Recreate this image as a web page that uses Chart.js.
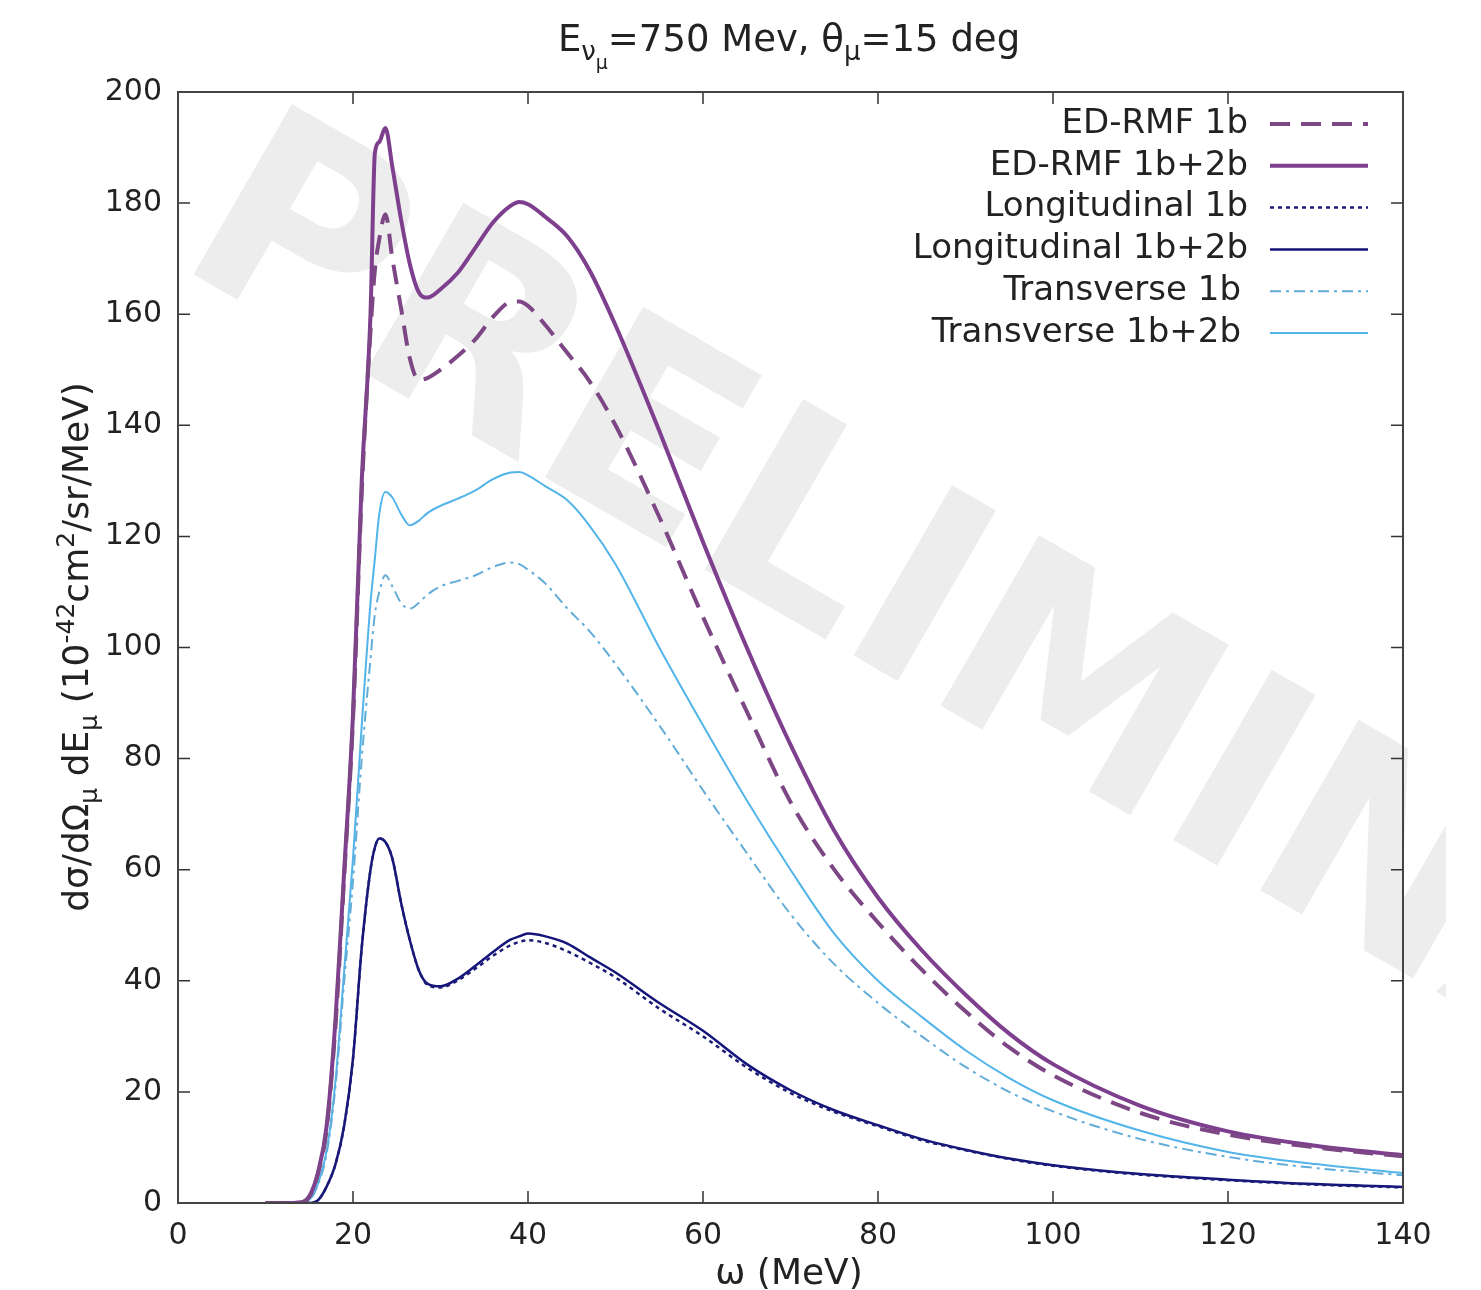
<!DOCTYPE html>
<html>
<head>
<meta charset="utf-8">
<script src="https://cdn.jsdelivr.net/npm/chart.js@4.4.1/dist/chart.umd.min.js"></script>
<style>
  html, body { margin: 0; padding: 0; background: #fff; }
  #wrap { width: 1481px; height: 1290px; position: relative; }
</style>
</head>
<body>
<div id="wrap"><canvas id="chart"></canvas></div>
<script>
// omega (MeV) sampling points, shared by all curves
const omega = [10, 12, 14, 15, 16, 17, 18, 19, 20, 21, 22, 22.5, 23, 23.7, 24.5, 25.5, 26.5, 27.5, 28.5, 30,
  32, 34, 36, 38, 39, 40, 42, 44.5, 47, 50, 55, 60, 65, 70, 75, 80, 85, 90, 95, 100, 110, 120, 130, 140];

// cross sections, 10^-42 cm^2/sr/MeV
const edRmf1b = [0, 0, 0.1, 1.1, 5.3, 13.5, 32, 59, 87, 128, 157, 168, 173.5, 178, 170, 161, 152, 148.2, 148.5, 150,
  152.5, 155.5, 159.5, 162.2, 162.3, 161.5, 158, 153, 148, 140, 123.5, 105.5, 88.5, 72.2, 60, 50.5, 42, 34.5, 28, 23, 16.2, 12.3, 10, 8.4];
const edRmf2b = [0, 0, 0.1, 1.2, 5.5, 14, 33, 60, 88, 130, 160, 189, 191, 193.5, 186.5, 177, 169, 164, 163, 164.5,
  167.5, 172, 176.5, 179.5, 180.2, 179.8, 177.5, 174, 168, 158, 139, 119, 100, 82.5, 67, 55, 45.5, 37.5, 30.5, 25, 17.5, 12.9, 10.3, 8.6];
const longi1b = [0, 0, 0, 0, 0.5, 3, 7, 14, 26, 46, 60, 64, 65.6, 65, 62, 54, 47.3, 42, 39.3, 38.8,
  40.1, 42.2, 44.5, 46.4, 47, 47.3, 46.8, 45.3, 43.3, 40.6, 35, 30, 24.4, 19.8, 16.4, 13.8, 11.3, 9.5, 7.9, 6.7, 5.1, 4.1, 3.3, 2.8];
const longi2b = [0, 0, 0, 0, 0.5, 3, 7, 14, 26, 46, 60, 64, 65.6, 65, 62, 54, 47.3, 42, 39.5, 39,
  40.4, 42.7, 45.2, 47.4, 48, 48.5, 48, 46.7, 44.3, 41.5, 36, 31, 25, 20.3, 16.7, 14, 11.5, 9.6, 8, 6.8, 5.2, 4.2, 3.4, 2.9];
const trans1b = [0, 0, 0.1, 0.5, 3.3, 9, 21, 40, 58, 80, 98, 106, 110, 113, 111, 108, 107, 108, 109.5, 111,
  112, 113, 114.5, 115.3, 115, 114, 111.5, 107, 103, 97, 86, 74.3, 63, 52, 43, 36, 30, 24.5, 20, 16.5, 11.5, 8.3, 6.3, 5];
const trans2b = [0, 0, 0.1, 0.6, 3.5, 9.5, 22, 42, 62, 86, 108, 116, 124, 128, 127, 124, 122, 122.8, 124.2, 125.5,
  126.8, 128.3, 130.3, 131.5, 131.6, 131, 129, 126.5, 122, 115, 100, 86, 72.5, 60, 48.5, 40, 33.5, 27.5, 22.5, 18.5, 13, 9.2, 7, 5.4];

const xTicks = [0, 20, 40, 60, 80, 100, 120, 140];
const yTicks = [0, 20, 40, 60, 80, 100, 120, 140, 160, 180, 200];

const FONT = '"DejaVu Sans", "Noto Sans", sans-serif';

function pts(ys) {
    return omega.map((x, i) => ({ x: x, y: ys[i] }));
}

function series(label, ys, color, width, dash) {
    return {
        label: label,
        data: pts(ys),
        borderColor: color,
        borderWidth: width,
        borderDash: dash,
        pointRadius: 0,
        fill: false,
        cubicInterpolationMode: 'monotone'
    };
}

// draws a string made of pieces with sub/superscripts, centred on x
function drawRich(ctx, parts, x, y) {
    let total = 0;
    parts.forEach(p => {
        ctx.font = p.size + 'px ' + FONT;
        p.w = ctx.measureText(p.t).width;
        total += p.w;
    });
    let cx = x - total / 2;
    ctx.textAlign = 'left';
    ctx.textBaseline = 'alphabetic';
    parts.forEach(p => {
        ctx.font = p.size + 'px ' + FONT;
        ctx.fillText(p.t, cx, y + (p.dy || 0));
        cx += p.w;
    });
}

const watermark = {
    id: 'watermark',
    beforeDatasetsDraw(chart) {
        const ctx = chart.ctx;
        ctx.save();
        ctx.beginPath();
        ctx.rect(0, 0, 1446, 1290);
        ctx.clip();
        ctx.translate(172, 262);
        ctx.rotate(30 * Math.PI / 180);
        ctx.font = 'bold 270px ' + FONT;
        ctx.fillStyle = '#ededed';
        ctx.textAlign = 'left';
        ctx.textBaseline = 'alphabetic';
        ctx.fillText('PRELIMINARY', 0, 0);
        ctx.restore();
    }
};

// legend rows: right edge of the text
const legendRight = [1248, 1248, 1248, 1248, 1241, 1241];

const frame = {
    id: 'frame',
    afterDatasetsDraw(chart) {
        const ctx = chart.ctx;
        const a = chart.chartArea;
        const xs = chart.scales.x, ys = chart.scales.y;
        ctx.save();
        ctx.strokeStyle = '#333';
        ctx.lineWidth = 1.5;
        ctx.beginPath();
        xTicks.forEach(v => {
            const px = xs.getPixelForValue(v);
            ctx.moveTo(px, a.bottom); ctx.lineTo(px, a.bottom - 12);
            ctx.moveTo(px, a.top); ctx.lineTo(px, a.top + 12);
        });
        yTicks.forEach(v => {
            const py = ys.getPixelForValue(v);
            ctx.moveTo(a.left, py); ctx.lineTo(a.left + 12, py);
            ctx.moveTo(a.right, py); ctx.lineTo(a.right - 12, py);
        });
        ctx.stroke();
        ctx.lineWidth = 2;
        ctx.strokeStyle = '#444';
        ctx.strokeRect(a.left, a.top, a.right - a.left, a.bottom - a.top);

        // legend
        ctx.fillStyle = '#222';
        ctx.font = '34px ' + FONT;
        ctx.textAlign = 'right';
        ctx.textBaseline = 'middle';
        chart.data.datasets.forEach((ds, i) => {
            const y = 124 + i * 41.8;
            ctx.fillText(ds.label, legendRight[i], y);
            ctx.save();
            ctx.strokeStyle = ds.borderColor;
            ctx.lineWidth = ds.borderWidth;
            ctx.setLineDash(ds.borderDash || []);
            ctx.beginPath();
            ctx.moveTo(1270, y);
            ctx.lineTo(1368, y);
            ctx.stroke();
            ctx.restore();
        });

        // title
        ctx.fillStyle = '#222';
        drawRich(ctx, [
            { t: 'E', size: 37 },
            { t: 'ν', size: 26, dy: 9 },
            { t: 'μ', size: 19, dy: 18 },
            { t: '=750 Mev, θ', size: 37 },
            { t: 'μ', size: 26, dy: 9 },
            { t: '=15 deg', size: 37 }
        ], 789, 51);

        // x axis title
        drawRich(ctx, [{ t: 'ω (MeV)', size: 36 }], 789, 1284);

        // y axis title
        ctx.save();
        ctx.translate(88, 647);
        ctx.rotate(-Math.PI / 2);
        drawRich(ctx, [
            { t: 'dσ/dΩ', size: 36 },
            { t: 'μ', size: 25, dy: 9 },
            { t: ' dE', size: 36 },
            { t: 'μ', size: 25, dy: 9 },
            { t: ' (10', size: 36 },
            { t: '-42', size: 25, dy: -14 },
            { t: 'cm', size: 36 },
            { t: '2', size: 25, dy: -14 },
            { t: '/sr/MeV)', size: 36 }
        ], 0, 0);
        ctx.restore();
        ctx.restore();
    }
};

const ctx = document.getElementById('chart').getContext('2d');
new Chart(ctx, {
    type: 'line',
    data: {
        datasets: [
            series('ED-RMF 1b', edRmf1b, '#7c4784', 4, [20, 11]),
            series('ED-RMF 1b+2b', edRmf2b, '#7d3f8e', 4, []),
            series('Longitudinal 1b', longi1b, '#1c1c78', 2.5, [4, 4]),
            series('Longitudinal 1b+2b', longi2b, '#14147a', 2.5, []),
            series('Transverse 1b', trans1b, '#62acd8', 2, [11, 5, 3, 5]),
            series('Transverse 1b+2b', trans2b, '#52b4e8', 2, [])
        ]
    },
    options: {
        responsive: true,
        maintainAspectRatio: false,
        animation: false,
        events: [],
        layout: { padding: { top: 92, right: 78, left: 0, bottom: 0 } },
        plugins: {
            legend: { display: false },
            tooltip: { enabled: false },
            title: { display: false }
        },
        scales: {
            x: {
                type: 'linear',
                min: 0,
                max: 140,
                afterFit(scale) { scale.height = 87; },
                afterBuildTicks(scale) { scale.ticks = xTicks.map(v => ({ value: v })); },
                ticks: { color: '#222', font: { family: FONT, size: 30 }, padding: 7, maxRotation: 0 },
                grid: { display: false },
                border: { display: false }
            },
            y: {
                type: 'linear',
                min: 0,
                max: 200,
                afterFit(scale) { scale.width = 178; },
                afterBuildTicks(scale) { scale.ticks = yTicks.map(v => ({ value: v })); },
                ticks: { color: '#222', font: { family: FONT, size: 30 }, padding: 8 },
                grid: { display: false },
                border: { display: false }
            }
        }
    },
    plugins: [watermark, frame]
});
</script>
</body>
</html>
